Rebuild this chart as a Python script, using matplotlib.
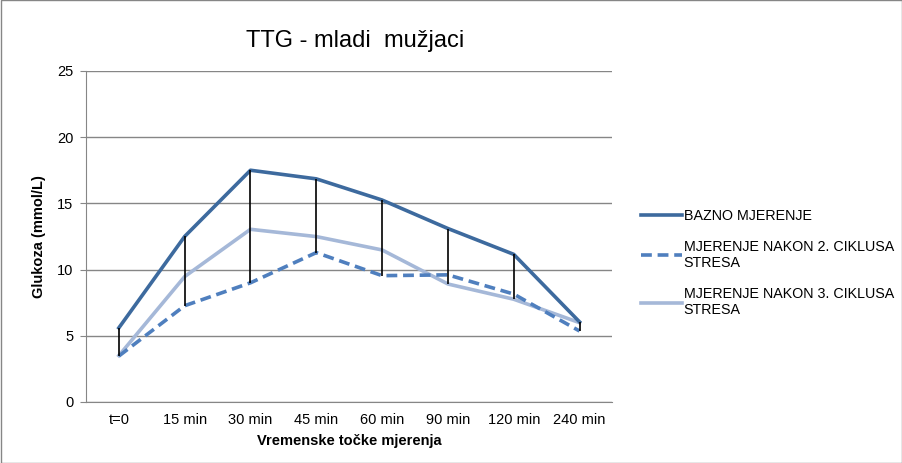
import matplotlib.pyplot as plt
import numpy as np

plt.rcParams['font.family'] = ['Liberation Sans', 'DejaVu Sans']

categories = ["t=0", "15 min", "30 min", "45 min", "60 min", "90 min", "120 min", "240 min"]
bazno = [5.6, 12.5, 17.5, 16.85, 15.25, 13.1, 11.15, 6.05]
nakon2 = [3.47, 7.27, 9.0, 11.28, 9.54, 9.6, 8.15, 5.36]
nakon3 = [3.5, 9.47, 13.04, 12.49, 11.48, 8.91, 7.76, 5.99]
series_names = ["BAZNO MJERENJE",
                "MJERENJE NAKON 2. CIKLUSA\nSTRESA",
                "MJERENJE NAKON 3. CIKLUSA\nSTRESA"]

fig = plt.figure(figsize=(9.03, 4.63), dpi=100)
ax = fig.add_axes([0.0952, 0.1318, 0.583, 0.715])

x = np.arange(len(categories))
data = np.array([bazno, nakon2, nakon3])

# high-low lines
ax.vlines(x, data.min(axis=0), data.max(axis=0), color="black", lw=1.2, zorder=4)

ax.plot(x, bazno, color="#3D6A9E", lw=2.6, label=series_names[0], zorder=3)
ax.plot(x, nakon2, color="#4F7FBE", lw=2.6, ls=(0, (3, 1.6)), label=series_names[1], zorder=3)
ax.plot(x, nakon3, color="#A5B8D8", lw=2.6, label=series_names[2], zorder=2)

ax.set_xlim(-0.5, len(categories) - 0.5)
ax.set_ylim(0, 25)
ax.set_yticks([0, 5, 10, 15, 20, 25])
ax.set_xticks(x)
ax.set_xticklabels(categories)
ax.grid(axis="y", color="#868686", lw=1)
ax.set_axisbelow(True)
for s in ["top", "right"]:
    ax.spines[s].set_visible(False)
for s in ["left", "bottom"]:
    ax.spines[s].set_color("#868686")
ax.tick_params(axis="both", length=0, labelsize=10.5, pad=8)
ax.tick_params(axis="y", length=4, direction="out", color="#868686", pad=5)

ax.set_xlabel("Vremenske točke mjerenja", fontsize=10.5, fontweight="bold", labelpad=5)
ax.set_ylabel("Glukoza (mmol/L)", fontsize=10.5, fontweight="bold", labelpad=8)
fig.text(0.393, 0.912, "TTG - mladi  mužjaci", fontsize=17, ha="center", va="center")

ax.legend(loc="center left", bbox_to_anchor=(1.035, 0.42), frameon=False,
          fontsize=10.3, handlelength=2.9, handletextpad=0.1, labelspacing=1.2,
          borderaxespad=0.3)

fig.patches.append(plt.Rectangle((0.001, 0.001), 0.998, 0.998, transform=fig.transFigure,
                                 fill=False, edgecolor="#868686", lw=1))

fig.savefig("out.png", dpi=100)
